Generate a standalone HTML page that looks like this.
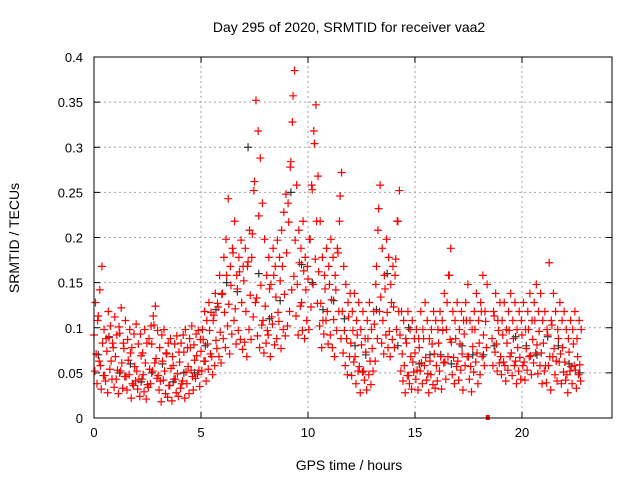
<!DOCTYPE html>
<html><head><meta charset="utf-8"><style>
body{margin:0;background:#fff;}
svg{display:block;font-family:"Liberation Sans",sans-serif;}
</style></head><body>
<svg id="chart" width="640" height="480">
<text x="349" y="32" font-size="14" text-anchor="middle">Day 295 of 2020, SRMTID for receiver vaa2</text>
<text x="349" y="470" font-size="14" text-anchor="middle">GPS time / hours</text>
<text transform="translate(19,238) rotate(-90)" font-size="14" text-anchor="middle">SRMTID / TECUs</text>
<g id="grid"></g><g id="ticks"></g><g id="marks"></g>
<rect x="94" y="57" width="518" height="361" fill="none" stroke="#000" stroke-width="1"/>
</svg>
<script>
const xTicks=[0,5,10,15,20];
const yTicks=[0,0.05,0.1,0.15,0.2,0.25,0.3,0.35,0.4];
const yTickLabels=["0","0.05","0.1","0.15","0.2","0.25","0.3","0.35","0.4"];
const seriesA=[.092,.071,.113,.058,.083,.047,.074,.089,.063,.078,.068,.053,.094,.061,.077,.046,.064,.072,.038,.057,.052,.043,.069,.048,.061,.037,.054,.082,.103,.066,.047,.041,.063,.052,.071,.036,.055,.058,.043,.049,.062,.038,.073,.051,.057,.078,.046,.064,.069,.053,.074,.087,.063,.082,.097,.068,.114,.086,.123,.095,.138,.117,.158,.126,.147,.183,.121,.143,.162,.128,.152,.118,.173,.136,.204,.262,.133,.224,.147,.108,.124,.097,.143,.112,.158,.134,.117,.152,.168,.137,.183,.217,.284,.357,.197,.148,.172,.128,.163,.142,.154,.198,.253,.304,.218,.162,.127,.108,.143,.118,.148,.131,.109,.142,.183,.246,.118,.097,.088,.112,.083,.097,.068,.092,.057,.081,.052,.073,.088,.063,.077,.104,.168,.232,.134,.108,.143,.117,.096,.128,.123,.176,.218,.092,.071,.058,.083,.047,.068,.062,.072,.053,.078,.061,.088,.067,.049,.063,.082,.071,.058,.083,.068,.097,.062,.128,.158,.084,.067,.088,.063,.082,.071,.093,.108,.068,.057,.079,.098,.072,.083,.118,.092,.107,null,null,.088,.113,.082,.097,.068,.092,.058,.083,.097,.072,.088,.063,.078,.067,.092,.062,.077,.098,.069,.087,.108,.081,.096,.072,.083,.058,.092,.068,.103,.077,.063,.088,.071,.078,.062,.048,.073,.057,.082,.053,.068,.059];
const seriesB=[.052,.038,.063,.032,.047,.041,.028,.054,.043,.034,.043,.027,.052,.033,.046,.031,.048,.022,.036,.041,.032,.024,.043,.029,.021,.034,.038,.052,.061,.044,.031,.018,.042,.027,.023,.036,.019,.043,.028,.024,.033,.041,.022,.038,.027,.053,.031,.044,.048,.035,.052,.063,.041,.054,.071,.048,.058,.077,.068,.061,.088,.078,.102,.071,.093,.108,.082,.097,.087,.076,.084,.068,.098,.087,.112,.128,.091,.078,.103,.072,.083,.092,.068,.104,.081,.088,.107,.077,.098,.091,.102,.118,.142,.157,.113,.092,.124,.097,.088,.108,.098,.123,.148,.176,.127,.102,.078,.093,.108,.082,.092,.078,.068,.097,.118,.088,.072,.058,.048,.068,.047,.062,.038,.052,.028,.051,.042,.031,.048,.037,.052,.063,.088,.118,.083,.071,.092,.078,.068,.087,.078,.098,.118,.052,.041,.028,.047,.038,.032,.051,.043,.031,.052,.038,.058,.042,.028,.048,.037,.033,.041,.052,.032,.061,.043,.068,.087,.048,.038,.057,.042,.053,.031,.058,.068,.043,.029,.051,.062,.038,.048,.068,.058,.078,null,null,.058,.073,.052,.061,.048,.062,.041,.053,.068,.047,.058,.038,.052,.043,.058,.042,.053,.068,.048,.061,.072,.049,.058,.038,.052,.039,.058,.031,.068,.048,.041,.062,.038,.051,.042,.028,.052,.038,.058,.033,.048,.041];
const seriesC=[.128,.108,.142,.168,.098,.088,.118,.102,.083,.112,.092,.101,.122,.083,.108,.087,.098,.078,.093,.104,.082,.093,.072,.098,.083,.088,.102,.113,.124,.097,.078,.092,.098,.072,.083,.088,.068,.082,.091,.073,.083,.092,.098,.078,.088,.102,.081,.093,.097,.087,.098,.118,.108,.128,.117,.108,.138,.127,.158,.137,.178,.198,.243,.168,.188,.218,.158,.178,.197,.168,.188,.168,.208,.178,.252,.352,.318,.288,.238,.198,.158,.178,.148,.188,.168,.197,.178,.208,.228,.248,.238,.278,.328,.385,.258,.208,.188,.218,.178,.168,.198,.258,.318,.347,.268,.218,.178,.158,.188,.168,.198,.178,.158,.188,.218,.272,.168,.148,.128,.138,.118,.138,.108,.128,.098,.118,.088,.108,.128,.098,.118,.148,.208,.258,.188,.158,.198,.178,.148,.168,.158,.218,.252,.118,.108,.088,.118,.098,.108,.088,.098,.088,.118,.098,.128,.108,.088,.098,.118,.108,.098,.118,.108,.138,.098,.158,.188,.118,.108,.128,.098,.118,.108,.128,.148,.108,.098,.118,.138,.108,.128,.158,.118,.148,null,null,.118,.138,.108,.128,.108,.128,.098,.118,.138,.108,.128,.098,.118,.108,.128,.098,.118,.138,.108,.128,.148,.118,.138,.108,.118,.098,.172,.108,.138,.118,.098,.128,.108,.118,.098,.088,.108,.098,.118,.088,.108,.098];
const seriesGray=[.07,.09,.05,.06,.04,.05,.06,.04,.05,.05,.08,.12,.15,.14,.30,.16,.11,.13,.25,.17,.15,.12,.13,.11,.08,.07,.12,.16,.08,.10,.06,.07,.07,.06,.08,.07,.07,.08,null,.09,.08,.07,.09,.08,.06,.05];
const zeroPointTimes=[18.4];
const zeroPointValues=[0];

const X0=94,X1=612,Y0=418,Y1=57,XPH=21.4;
const sx=t=>X0+t*XPH;
const sy=v=>Y0-(v/0.4)*(Y0-Y1);
const NS="http://www.w3.org/2000/svg";
function mk(tag,attrs,parent){const e=document.createElementNS(NS,tag);for(const k in attrs)e.setAttribute(k,attrs[k]);parent.appendChild(e);return e;}
const grid=document.getElementById('grid'),ticks=document.getElementById('ticks'),marks=document.getElementById('marks');
xTicks.forEach(t=>{
  const x=sx(t);
  const g=mk('line',{x1:x,x2:x,y1:Y0,y2:Y1,stroke:'#a0a0a0','stroke-dasharray':'2,3'},grid);
  
  
  mk('line',{x1:x,x2:x,y1:Y0,y2:Y0-6,stroke:'#000'},ticks);
  mk('line',{x1:x,x2:x,y1:Y1,y2:Y1+6,stroke:'#000'},ticks);
  const l=mk('text',{x:x,y:Y0+19,'font-size':13,'text-anchor':'middle'},ticks);
  l.textContent=t;
  
  
});
yTicks.forEach((v,i)=>{
  const y=sy(v);
  const g=mk('line',{x1:X0,x2:X1,y1:y,y2:y,stroke:'#a0a0a0','stroke-dasharray':'2,3'},grid);
  
  
  mk('line',{x1:X0,x2:X0+6,y1:y,y2:y,stroke:'#000'},ticks);
  mk('line',{x1:X1,x2:X1-6,y1:y,y2:y,stroke:'#000'},ticks);
  const l=mk('text',{x:X0-11,y:y+5,'font-size':13,'text-anchor':'end'},ticks);
  l.textContent=yTickLabels[i];
  
  
});
function cross(t,v,color,name){
  if(v===null)return;
  const x=sx(t),y=sy(v);
  const p=mk('path',{d:`M${x-4},${y}h8M${x},${y-4}v8`,stroke:color,'stroke-width':1.2,fill:'none'},marks);
  
  
}
seriesGray.forEach((v,i)=>cross(i*0.5+0.2,v,'#333','gray-point'));
seriesA.forEach((v,i)=>cross(i*0.1,v,'#ff0000','srmtid-point'));
seriesB.forEach((v,i)=>cross(i*0.1+0.04,v,'#ff0000','srmtid-point'));
seriesC.forEach((v,i)=>cross(i*0.1+0.07,v,'#ff0000','srmtid-point'));
zeroPointTimes.forEach((t,i)=>{
  const r=mk('rect',{x:sx(t)-2,y:sy(zeroPointValues[i])-3,width:4,height:5,fill:'#ff0000'},marks);
  
  
});
</script>
</body></html>
